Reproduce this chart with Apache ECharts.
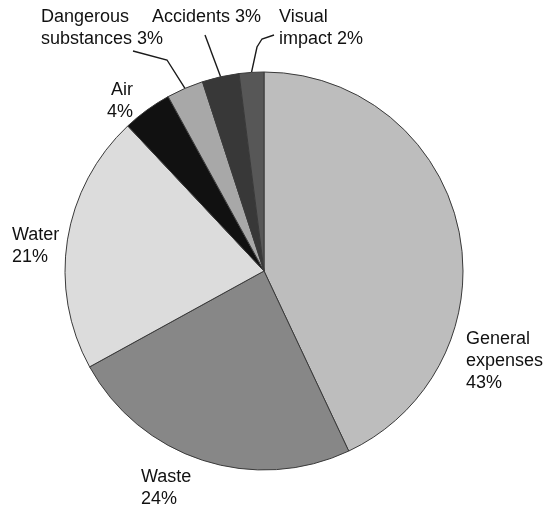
<!DOCTYPE html>
<html>
<head>
<meta charset="utf-8">
<script src="https://cdn.jsdelivr.net/npm/echarts@6/dist/echarts.min.js"></script>
<style>
html,body{margin:0;padding:0;background:#fff;}
#chart{width:547px;height:513px;}
</style>
</head>
<body>
<div id="chart"></div>
<script>
const categories = ['General expenses', 'Waste', 'Water', 'Air', 'Dangerous substances', 'Accidents', 'Visual impact'];
const values = [43, 24, 21, 4, 3, 3, 2];
const labelTexts = ['General\nexpenses\n43%', 'Waste\n24%', 'Water\n21%', 'Air\n4%', 'Dangerous\nsubstances 3%', 'Accidents 3%', 'Visual\nimpact 2%'];
const colors = ['#bdbdbd', '#878787', '#dcdcdc', '#111111', '#a8a8a8', '#383838', '#575757'];
const showLine = [false, false, false, false, true, true, true];

const labelPos = [
  {x: 466, y: 328, align: 'left'},
  {x: 141, y: 466, align: 'left'},
  {x: 12, y: 224, align: 'left'},
  {x: 133, y: 79, align: 'right'},
  {x: 41, y: 6, align: 'left'},
  {x: 152, y: 6, align: 'left'},
  {x: 279, y: 6, align: 'left'}
];
// leader-line bends (after the arc anchor computed by ECharts)
const leaderBends = [
  null, null, null, null,
  [[167, 60], [133, 51]],
  [[205, 35]],
  [[257, 47], [262, 39], [274, 35]]
];

const chart = echarts.init(document.getElementById('chart'), null, {renderer: 'canvas'});
const data = categories.map((c, i) => ({
  name: c,
  value: values[i],
  itemStyle: {color: colors[i]},
  label: {formatter: labelTexts[i]},
  labelLine: {show: showLine[i]}
}));

chart.setOption({
  backgroundColor: '#ffffff',
  animation: false,
  series: [{
    type: 'pie',
    center: [264, 271],
    radius: 199,
    startAngle: 90,
    clockwise: true,
    avoidLabelOverlap: false,
    minShowLabelAngle: 0,
    itemStyle: {borderColor: '#3a3a3a', borderWidth: 1},
    label: {
      show: true,
      position: 'outside',
      fontFamily: '"Liberation Sans", Arial, Helvetica, sans-serif',
      fontSize: 18,
      lineHeight: 22,
      color: '#111111'
    },
    labelLine: {
      show: true,
      length: 12,
      length2: 10,
      smooth: false,
      lineStyle: {color: '#1a1a1a', width: 1.4}
    },
    emphasis: {disabled: true},
    labelLayout: function (params) {
      const i = params.dataIndex;
      const p = labelPos[i];
      const out = {x: p.x, y: p.y, align: p.align, verticalAlign: 'top'};
      if (leaderBends[i] && params.labelLinePoints) {
        out.labelLinePoints = [params.labelLinePoints[0]].concat(leaderBends[i]);
      }
      return out;
    },
    data: data
  }]
});
</script>
</body>
</html>
